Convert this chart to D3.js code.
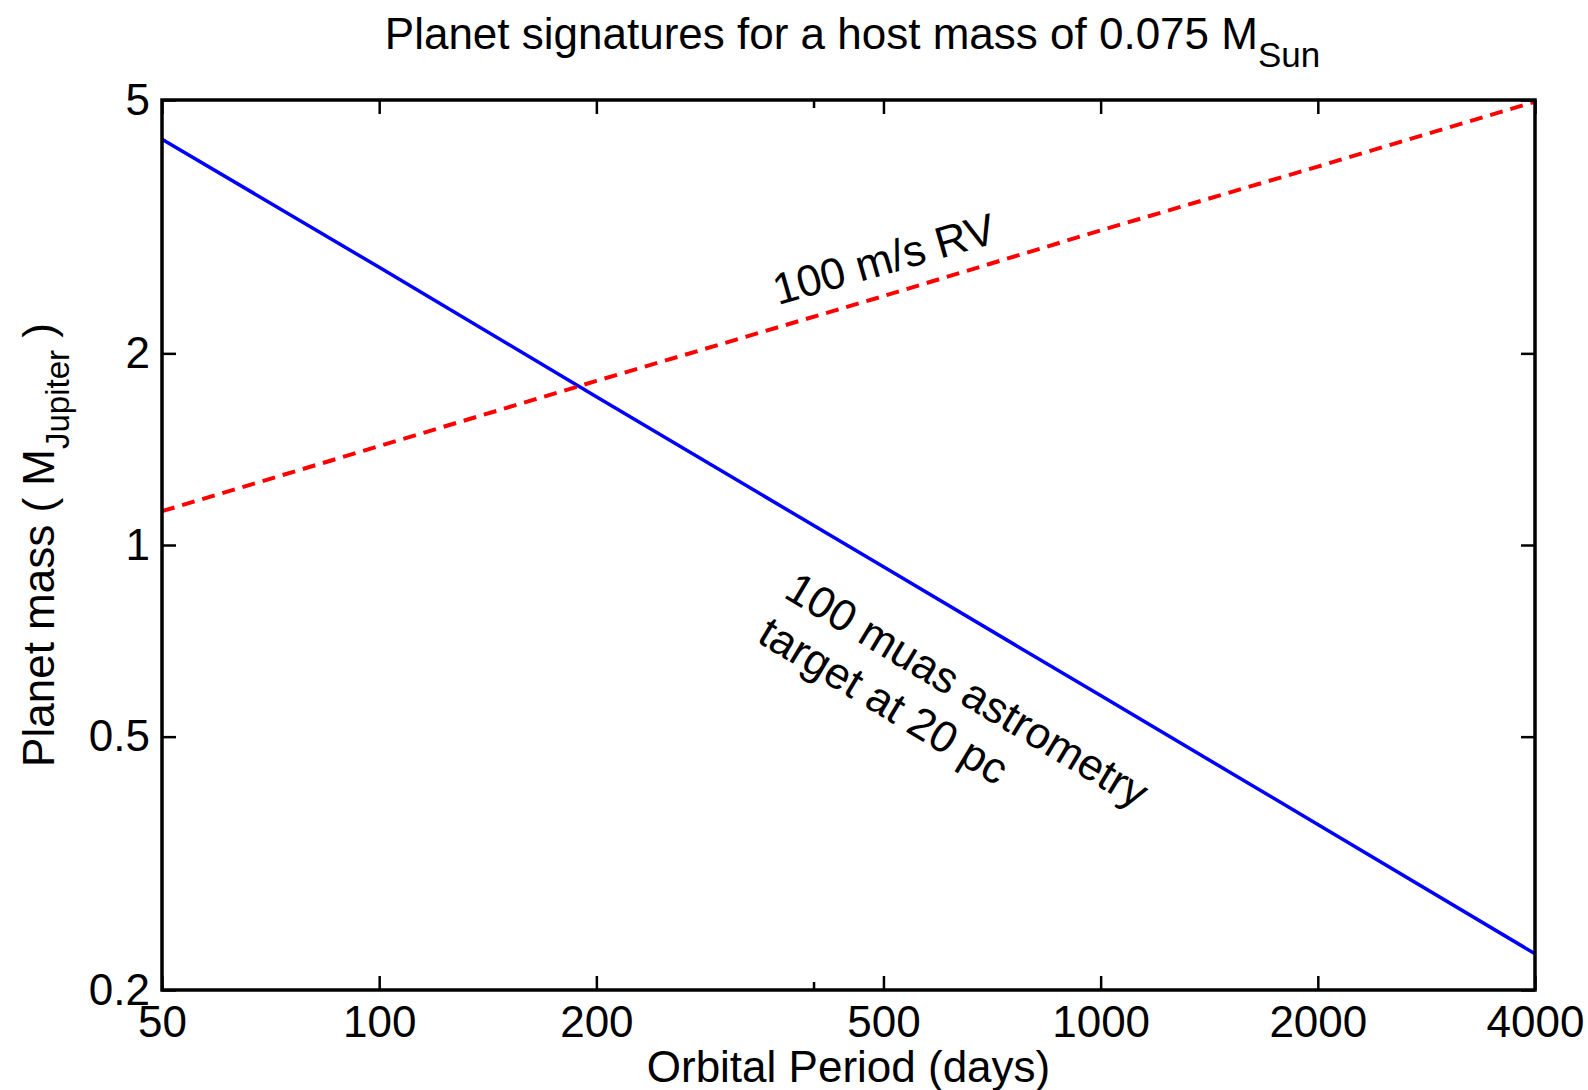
<!DOCTYPE html>
<html>
<head>
<meta charset="utf-8">
<title>Planet signatures</title>
<script src="https://d3js.org/d3.v7.min.js"></script>
<style>
  body { margin: 0; background: #fff; }
  text { font-family: "Liberation Sans", Helvetica, Arial, sans-serif; fill: #000; }
</style>
</head>
<body>
<div id="chart"></div>
<script>
// data
const periods = [50, 100, 200, 500, 1000, 2000, 4000];
const astrometryMass = [4.34, 2.73, 1.71, 0.924, 0.58, 0.364, 0.228];
const rvMass = [1.13, 1.43, 1.81, 2.46, 3.12, 3.93, 4.97];

const xTicks = [50, 100, 200, 500, 1000, 2000, 4000];
const xMinorTicks = [400];
const yTicks = [0.2, 0.5, 1, 2, 5];
const yTickLabels = ["0.2", "0.5", "1", "2", "5"];

const width = 1588, height = 1090;
const margin = {top: 100, right: 53, bottom: 100, left: 162};
const plotW = width - margin.left - margin.right;
const plotH = height - margin.top - margin.bottom;

const svg = d3.select("#chart").append("svg")
  .attr("width", width).attr("height", height);

const x = d3.scaleLog().domain([50, 4000]).range([0, plotW]);
const y = d3.scaleLog().domain([0.2, 5]).range([plotH, 0]);

const g = svg.append("g").attr("transform", `translate(${margin.left},${margin.top})`);

// lines
const line = d3.line().x(d => x(d[0])).y(d => y(d[1]));

g.append("path")
  .datum(periods.map((p, i) => [p, astrometryMass[i]]))
  .attr("d", line)
  .attr("fill", "none")
  .attr("stroke", "#0000ff")
  .attr("stroke-width", 3.5);

g.append("path")
  .datum(periods.map((p, i) => [p, rvMass[i]]))
  .attr("d", line)
  .attr("fill", "none")
  .attr("stroke", "#ff0000")
  .attr("stroke-width", 4)
  .attr("stroke-dasharray", "13,8");

// axes, ticks pointing inward
function styleAxis(sel) {
  sel.select(".domain").remove();
  sel.selectAll(".tick line").attr("stroke", "#000").attr("stroke-width", 2.5);
  sel.selectAll("text").style("font-size", "44px").attr("fill", "#000");
}

g.append("g")
  .attr("transform", `translate(0,${plotH})`)
  .call(d3.axisBottom(x).tickValues(xTicks).tickFormat(d3.format("d")).tickSize(-14).tickPadding(16))
  .call(styleAxis);

g.append("g")
  .attr("transform", `translate(0,${plotH})`)
  .call(d3.axisBottom(x).tickValues(xMinorTicks).tickFormat("").tickSize(-8))
  .call(styleAxis);

g.append("g")
  .call(d3.axisTop(x).tickValues(xTicks.concat(xMinorTicks)).tickFormat("").tickSize(-14))
  .call(styleAxis);

g.append("g")
  .call(d3.axisLeft(y).tickValues(yTicks).tickFormat((d, i) => yTickLabels[i]).tickSize(-14).tickPadding(12))
  .call(styleAxis);

g.append("g")
  .attr("transform", `translate(${plotW},0)`)
  .call(d3.axisRight(y).tickValues(yTicks).tickFormat("").tickSize(-14))
  .call(styleAxis);

// minor tick at 400 is short on both sides
g.selectAll(".tick").filter(d => d === 400).select("line").attr("y2", function() {
  return +d3.select(this).attr("y2") < 0 ? -8 : 8;
});

// frame
g.append("rect")
  .attr("width", plotW).attr("height", plotH)
  .attr("fill", "none").attr("stroke", "#000").attr("stroke-width", 3.5);

// annotations
g.append("text")
  .attr("transform", `translate(${x(357)}, ${y(2.38)}) rotate(-16)`)
  .style("font-size", "44px")
  .text("100 m/s RV");

const astro = g.append("text")
  .attr("transform", `translate(${x(362)}, ${y(0.83)}) rotate(31)`)
  .style("font-size", "44px");
astro.append("tspan").attr("x", 0).attr("dy", 0).text("100 muas astrometry");
astro.append("tspan").attr("x", 0).attr("dy", 52).text("target at 20 pc");

// title
const title = svg.append("text")
  .attr("x", margin.left + plotW / 2 + 4)
  .attr("y", 49)
  .attr("text-anchor", "middle")
  .style("font-size", "44px");
title.append("tspan").text("Planet signatures for a host mass of 0.075 M");
title.append("tspan").attr("dy", 18).style("font-size", "35px").text("Sun");

// x label
svg.append("text")
  .attr("x", margin.left + plotW / 2)
  .attr("y", 1082)
  .attr("text-anchor", "middle")
  .style("font-size", "44px")
  .text("Orbital Period (days)");

// y label
const ylab = svg.append("text")
  .attr("transform", `translate(54, ${margin.top + plotH / 2}) rotate(-90)`)
  .attr("text-anchor", "middle")
  .style("font-size", "44px");
ylab.append("tspan").text("Planet mass ( M");
ylab.append("tspan").attr("dy", 15).style("font-size", "33px").text("Jupiter");
ylab.append("tspan").attr("dy", -15).text(" )");
</script>
</body>
</html>
